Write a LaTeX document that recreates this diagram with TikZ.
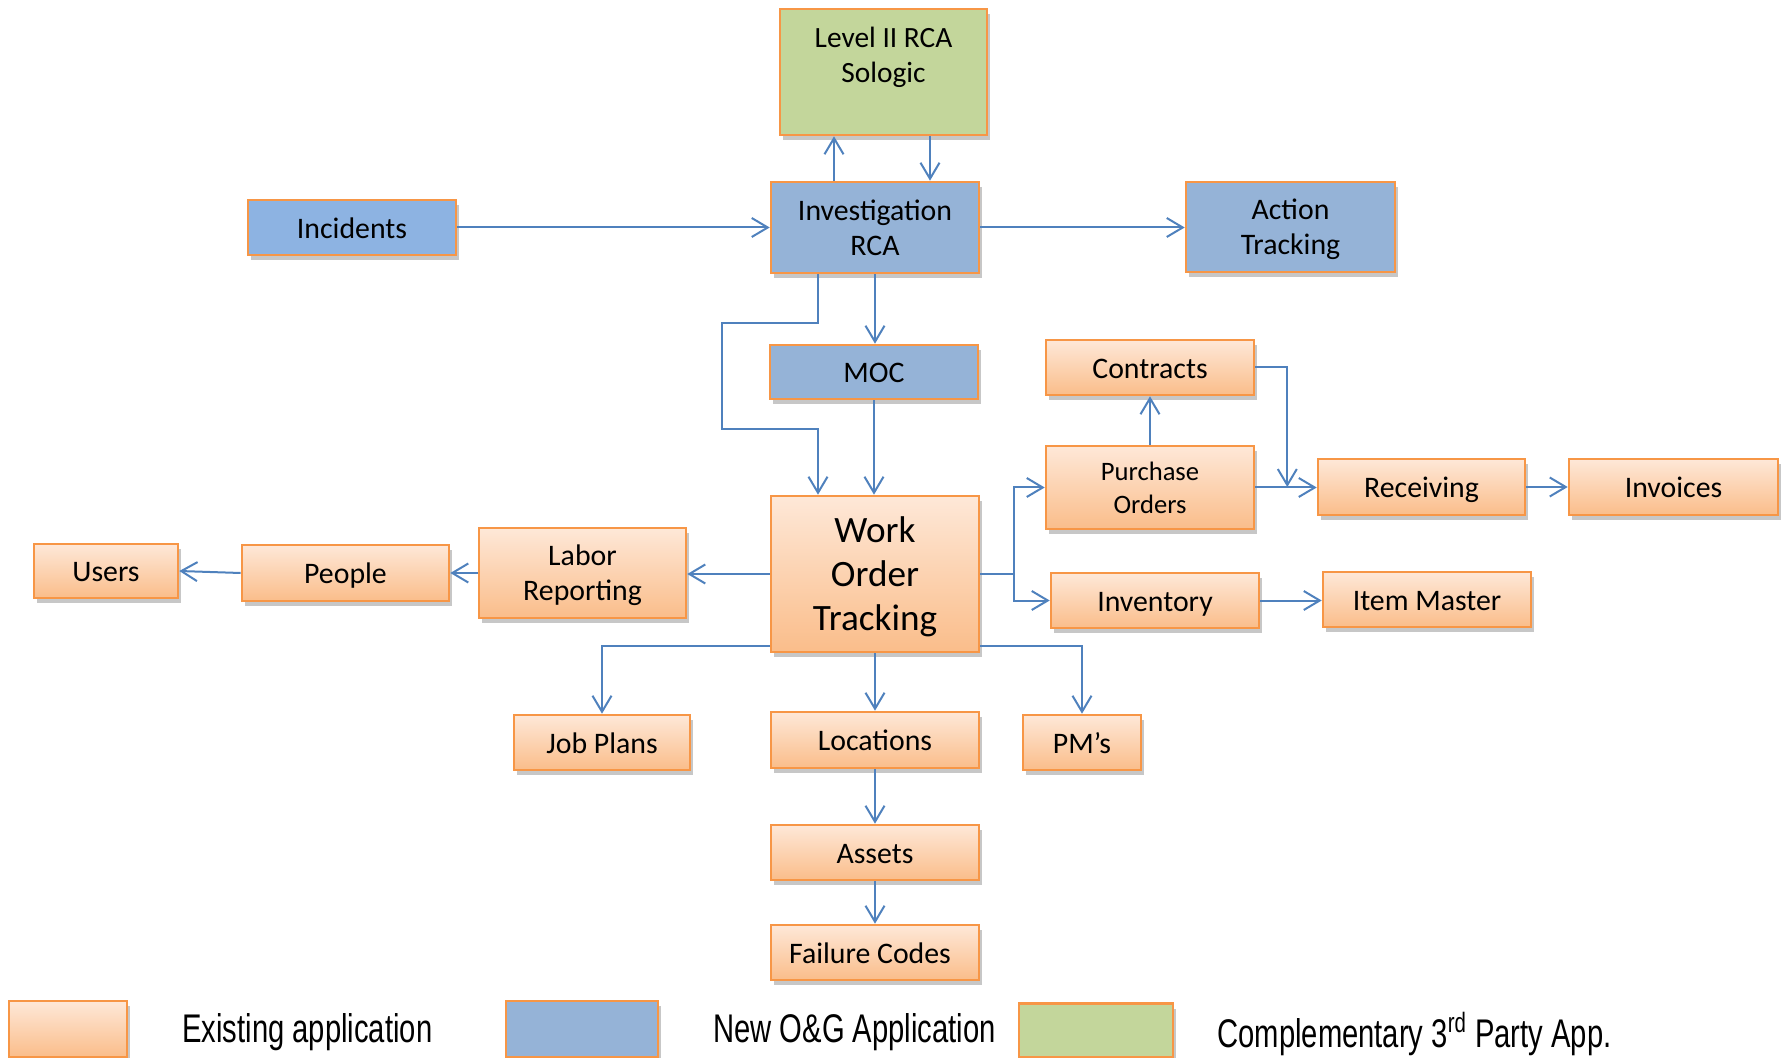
\documentclass[tikz,border=0pt]{standalone}
\usepackage{fontspec}
\setmainfont{Carlito}
\newfontfamily\legfont[FakeStretch=0.73]{Liberation Sans}
\usetikzlibrary{arrows.meta,calc,shadows}
\definecolor{orgLine}{HTML}{F79646}
\definecolor{orgTop}{HTML}{FEE8D8}
\definecolor{orgBot}{HTML}{FABD8A}
\definecolor{blueF}{HTML}{95B3D7}
\definecolor{blueInc}{HTML}{8DB3E2}
\definecolor{greenF}{HTML}{C3D69B}
\definecolor{arrC}{HTML}{4F81BD}
\begin{document}
\begin{tikzpicture}[x=0.5pt,y=-0.5pt,
  basebox/.style={draw=orgLine, line width=1.3pt, inner sep=0pt, align=center,
    font=\fontsize{14.9}{17.5}\selectfont,
    drop shadow={shadow xshift=1.5pt, shadow yshift=-2.5pt, fill=black, opacity=0.22}},
  ebox/.style={basebox, top color=orgTop, bottom color=orgBot},
  nbox/.style={basebox, fill=blueF},
  gbox/.style={basebox, fill=greenF},
  one/.style={text height=14.2pt, text depth=3.35pt},
  sz/.style 2 args={minimum width=#1, minimum height=#2},
  arr/.style={draw=arrC, line width=1pt, -{Straight Barb[length=8pt,width=9.5pt,line width=1pt]}},
  legtext/.style={anchor=west, inner sep=0pt, font=\legfont\fontsize{20}{24}\selectfont}
]
\useasboundingbox (0,0) rectangle (1787,1058);

% nodes
\node[gbox, sz={103.5pt}{63pt}] (lvl2) at (883.5,72) {};
\node[align=center, font=\fontsize{14.7}{17.5}\selectfont] (lvl2t) at (883.5,57) {Level II RCA\\Sologic};
\node[nbox, sz={104pt}{45.5pt}] (inv) at (875,227.5) {Investigation\\RCA};
\node[nbox, one, sz={104pt}{27.5pt}, fill=blueInc] (inc) at (352,227.5) {Incidents};
\node[nbox, sz={104.5pt}{45pt}] (act) at (1290.5,227) {Action\\\smash{Tracking}};
\node[nbox, one, sz={104pt}{27pt}] (moc) at (874,372) {MOC};
\node[ebox, sz={104pt}{78pt}, font=\fontsize{18.6}{22}\selectfont] (wot) at (875,574) {Work\\Order\\\smash{Tracking}};
\node[ebox, sz={103.5pt}{45pt}] (lab) at (582.5,573) {Labor\\\smash{Reporting}};
\node[ebox, one, sz={103.5pt}{28pt}] (ppl) at (345.5,573) {People};
\node[ebox, one, sz={72pt}{27pt}] (usr) at (106,571) {Users};
\node[ebox, one, sz={104pt}{27.5pt}] (con) at (1150,367.5) {Contracts};
\node[ebox, sz={104pt}{41.5pt}, font=\fontsize{13.3}{16.5}\selectfont] (po) at (1150,487.5) {Purchase\\Orders};
\node[ebox, one, sz={103.5pt}{28pt}] (rec) at (1421.5,487) {Receiving};
\node[ebox, one, sz={104.5pt}{28pt}] (invo) at (1673.5,487) {Invoices};
\node[ebox, one, sz={104pt}{27.5pt}] (inv2) at (1155,600.5) {Inventory};
\node[ebox, one, sz={104pt}{27.5pt}] (inm) at (1427,599.5) {Item Master};
\node[ebox, one, sz={88pt}{27.5pt}] (job) at (602,742.5) {Job Plans};
\node[ebox, one, sz={104pt}{28pt}] (loc) at (875,740) {Locations};
\node[ebox, one, sz={59pt}{27.5pt}] (pms) at (1082,742.5) {PM’s};
\node[ebox, one, sz={104pt}{27.5pt}] (ast) at (875,852.5) {Assets};
\node[ebox, one, sz={104pt}{27.5pt}] (fc) at (875,952.5) {\hspace*{-5pt}Failure Codes};

% legend
\node[ebox, sz={59pt}{28pt}] (lego) at (68,1029) {};
\node[nbox, sz={76pt}{28pt}] (legn) at (582,1029) {};
\node[gbox, sz={77pt}{27pt}] (legg) at (1096,1030.5) {};
\node[legtext] (lt1) at (182,1032) {Existing application};
\node[legtext] (lt2) at (713,1032) {New O\&G Application};
\node[legtext] (lt3) at (1217,1034) {Complementary 3\textsuperscript{rd} Party App.};

% helper coordinates
\coordinate (upS) at ($(inv.north)+(-41,0)$);
\coordinate (dnS) at ($(lvl2.south)+(46.5,0)$);
\coordinate (cb) at ($(con.east)+(32,0)$);
\coordinate (wr) at ($(wot.east)+(34,0)$);

% connectors
\draw[arr] (inc.east) -- (inv.west);
\draw[arr] (inv.east) -- (inv.east -| act.west);
\draw[arr] (upS) -- (upS |- lvl2.south);
\draw[arr] (dnS) -- (dnS |- inv.north);
\draw[arr] (inv.south) -- (inv.south |- moc.north);
\draw[arr] ($(inv.south)+(-57,0)$) -- ++(0,49) -- ++(-96,0) -- ++(0,106) -- ++(96,0) -- ($(wot.north)+(-57,0)$);
\draw[arr] (moc.south) -- (moc.south |- wot.north);
\draw[arr] (wot.west) -- (wot.west -| lab.east);
\draw[arr] (lab.west) -- (ppl.east);
\draw[arr] (ppl.west) -- (usr.east);
\draw[arr] (wot.east) -- (wr) |- (po.west);
\draw[arr] (wot.east) -- (wr) |- (inv2.west);
\draw[arr] (po.north) -- (con.south);
\draw[arr] (po.east) -- (po.east -| rec.west);
\draw[arr] (con.east) -- (cb) -- (cb |- rec.west);
\draw[arr] (rec.east) -- (rec.east -| invo.west);
\draw[arr] (inv2.east) -- (inv2.east -| inm.west);
\draw[arr] (wot.south) -- (loc.north);
\draw[arr] ($(wot.south west)+(0,-7)$) -| (job.north);
\draw[arr] ($(wot.south east)+(0,-7)$) -| (pms.north);
\draw[arr] (loc.south) -- (ast.north);
\draw[arr] (ast.south) -- (fc.north);
\end{tikzpicture}
\end{document}
